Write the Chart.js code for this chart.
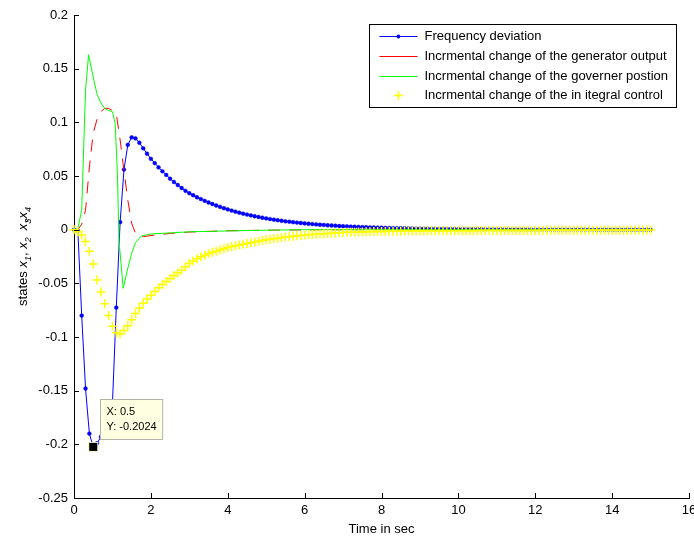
<!DOCTYPE html>
<html lang="en">
<head>
    <meta charset="UTF-8">
    <title>States response</title>
    <script src="https://cdn.jsdelivr.net/npm/chart.js"></script>
    <style>
        body {
            margin: 0;
            background: #fff;
            overflow: hidden;
        }
        .wrap {
            width: 694px;
            height: 541px;
            overflow: hidden;
        }
    </style>
</head>
<body>
    <div class="wrap">
        <canvas id="statesChart" width="704" height="541"></canvas>
    </div>

    <script>
        // time grid of the solver output (s)
        const time = [
            0, 0.1, 0.2, 0.3, 0.4, 0.5, 0.6, 0.7, 0.8, 0.9,
            1, 1.1, 1.2, 1.3, 1.4, 1.5, 1.6, 1.7, 1.8, 1.9,
            2, 2.1, 2.2, 2.3, 2.4, 2.5, 2.6, 2.7, 2.8, 2.9,
            3, 3.1, 3.2, 3.3, 3.4, 3.5, 3.6, 3.7, 3.8, 3.9,
            4, 4.1, 4.2, 4.3, 4.4, 4.5, 4.6, 4.7, 4.8, 4.9,
            5, 5.1, 5.2, 5.3, 5.4, 5.5, 5.6, 5.7, 5.8, 5.9,
            6, 6.1, 6.2, 6.3, 6.4, 6.5, 6.6, 6.7, 6.8, 6.9,
            7, 7.1, 7.2, 7.3, 7.4, 7.5, 7.6, 7.7, 7.8, 7.9,
            8, 8.1, 8.2, 8.3, 8.4, 8.5, 8.6, 8.7, 8.8, 8.9,
            9, 9.1, 9.2, 9.3, 9.4, 9.5, 9.6, 9.7, 9.8, 9.9,
            10, 10.1, 10.2, 10.3, 10.4, 10.5, 10.6, 10.7, 10.8, 10.9,
            11, 11.1, 11.2, 11.3, 11.4, 11.5, 11.6, 11.7, 11.8, 11.9,
            12, 12.1, 12.2, 12.3, 12.4, 12.5, 12.6, 12.7, 12.8, 12.9,
            13, 13.1, 13.2, 13.3, 13.4, 13.5, 13.6, 13.7, 13.8, 13.9,
            14, 14.1, 14.2, 14.3, 14.4, 14.5, 14.6, 14.7, 14.8, 14.9,
            15
        ];

        // x1 - frequency deviation
        const freqDev = [
            0, -0.001, -0.08, -0.148, -0.19, -0.2024, -0.199, -0.193, -0.185, -0.174,
            -0.162, -0.0726, 0.007, 0.056, 0.079, 0.086, 0.085, 0.081, 0.0758, 0.0708,
            0.066, 0.062, 0.058, 0.0544, 0.051, 0.0475, 0.0444, 0.0416, 0.0388, 0.0362,
            0.034, 0.0321, 0.0302, 0.0285, 0.0269, 0.0253, 0.0239, 0.0225, 0.0212, 0.02,
            0.0189, 0.0178, 0.0168, 0.0158, 0.0149, 0.0141, 0.0133, 0.0125, 0.0118, 0.0111,
            0.0105, 0.0099, 0.0093, 0.0088, 0.0083, 0.0078, 0.0074, 0.007, 0.0066, 0.0062,
            0.0058, 0.0055, 0.0052, 0.0049, 0.0046, 0.0044, 0.0041, 0.0039, 0.0037, 0.0034,
            0.0032, 0.0031, 0.0029, 0.0027, 0.0026, 0.0024, 0.0023, 0.0021, 0.002, 0.0019,
            0.0018, 0.0017, 0.0016, 0.0015, 0.0014, 0.0013, 0.0013, 0.0012, 0.0011, 0.001,
            0.001, 0.0009, 0.0009, 0.0008, 0.0008, 0.0007, 0.0007, 0.0006, 0.0006, 0.0006,
            0.0005, 0.0005, 0.0005, 0.0004, 0.0004, 0.0004, 0.0004, 0.0003, 0.0003, 0.0003,
            0.0003, 0.0003, 0.0002, 0.0002, 0.0002, 0.0002, 0.0002, 0.0002, 0.0002, 0.0001,
            0.0001, 0.0001, 0.0001, 0.0001, 0.0001, 0.0001, 0.0001, 0.0001, 0.0001, 0.0001,
            0.0001, 0.0001, 0.0001, 0.0001, 0.0001, 0.0001, 0, 0, 0, 0,
            0, 0, 0, 0, 0, 0, 0, 0, 0, 0,
            0
        ];

        // x4 - integral control
        const integralCtrl = [
            0, -0.002, -0.005, -0.011, -0.02, -0.032, -0.047, -0.058, -0.069, -0.08,
            -0.09, -0.096, -0.0972, -0.094, -0.0895, -0.084, -0.078, -0.073, -0.0685, -0.0645,
            -0.061, -0.0575, -0.0542, -0.0512, -0.0483, -0.0455, -0.0428, -0.0402, -0.0377, -0.0345,
            -0.0315, -0.0292, -0.027, -0.0253, -0.0238, -0.0223, -0.0211, -0.02, -0.0189, -0.0178,
            -0.0167, -0.0157, -0.015, -0.0143, -0.0136, -0.0129, -0.0122, -0.0115, -0.0107, -0.01,
            -0.0094, -0.0089, -0.0084, -0.0079, -0.0073, -0.0069, -0.0065, -0.0061, -0.0057, -0.0054,
            -0.0051, -0.0048, -0.0045, -0.0042, -0.004, -0.0038, -0.0036, -0.0034, -0.0031, -0.0029,
            -0.0027, -0.0025, -0.0024, -0.0023, -0.0022, -0.0021, -0.002, -0.0019, -0.0018, -0.0017,
            -0.0016, -0.0016, -0.0015, -0.0015, -0.0014, -0.0014, -0.0013, -0.0013, -0.0013, -0.0012,
            -0.0012, -0.0012, -0.0011, -0.0011, -0.0011, -0.001, -0.001, -0.001, -0.001, -0.0009,
            -0.0009, -0.0009, -0.0009, -0.0009, -0.0009, -0.0008, -0.0008, -0.0008, -0.0008, -0.0008,
            -0.0008, -0.0008, -0.0008, -0.0007, -0.0007, -0.0007, -0.0007, -0.0007, -0.0007, -0.0007,
            -0.0007, -0.0007, -0.0006, -0.0006, -0.0006, -0.0006, -0.0006, -0.0006, -0.0006, -0.0006,
            -0.0006, -0.0006, -0.0005, -0.0005, -0.0005, -0.0005, -0.0005, -0.0005, -0.0005, -0.0005,
            -0.0005, -0.0005, -0.0005, -0.0005, -0.0005, -0.0004, -0.0004, -0.0004, -0.0004, -0.0004,
            -0.0004
        ];

        // x2 - generator output (own time steps)
        const genTime = [0, 0.1, 0.2, 0.3, 0.4, 0.5, 0.6, 0.7, 0.8, 0.9, 1, 1.1, 1.2, 1.3, 1.4, 1.5, 1.6, 1.7, 1.8, 2, 2.5, 3, 4, 5, 6, 8, 10, 12, 15];
        const genOutput = [0, 0, 0.005, 0.018, 0.058, 0.09, 0.103, 0.11, 0.113, 0.113, 0.111, 0.108, 0.0835, 0.055, 0.0276, 0.006, -0.0034, -0.006, -0.0065, -0.0055, -0.0035, -0.0022, -0.001, -0.0005, -0.0002, 0, 0, 0, 0];

        // x3 - governor position (own time steps)
        const govTime = [0, 0.1, 0.2, 0.3, 0.38, 0.5, 0.6, 0.7, 0.8, 0.9, 1, 1.07, 1.13, 1.17, 1.28, 1.4, 1.5, 1.6, 1.75, 2, 2.5, 3, 4, 5, 6, 8, 10, 12, 15];
        const govPosition = [0, 0.001, 0.018, 0.13, 0.163, 0.142, 0.126, 0.118, 0.113, 0.111, 0.11, 0.099, 0.0525, -0.01, -0.0546, -0.036, -0.022, -0.012, -0.006, -0.004, -0.003, -0.002, -0.0012, -0.0005, 0, 0, 0, 0, 0];

        const seriesNames = [
            "Frequency deviation",
            "Incrmental change of the generator output",
            "Incrmental change of the governer postion",
            "Incrmental change of the in itegral control"
        ];

        const xTicks = [0, 2, 4, 6, 8, 10, 12, 14, 16];
        const yTicks = [-0.25, -0.2, -0.15, -0.1, -0.05, 0, 0.05, 0.1, 0.15, 0.2];
        const tipIndex = 5; // data cursor on the frequency deviation

        const FONT = '"Liberation Sans", Arial, Helvetica, sans-serif';

        function pairs(xs, ys) {
            return xs.map((x, i) => ({ x: x, y: ys[i] }));
        }

        // MATLAB style ticks pointing into the axes
        const inwardTicks = {
            id: 'inwardTicks',
            afterDraw(chart) {
                const ctx = chart.ctx;
                const xs = chart.scales.x, ys = chart.scales.y;
                const a = chart.chartArea;
                ctx.save();
                ctx.strokeStyle = '#000';
                ctx.lineWidth = 1;
                ctx.beginPath();
                xTicks.forEach(v => {
                    const px = Math.round(xs.getPixelForValue(v)) + 0.5;
                    ctx.moveTo(px, a.bottom);
                    ctx.lineTo(px, a.bottom - 5);
                });
                yTicks.forEach(v => {
                    const py = Math.round(ys.getPixelForValue(v)) + 0.5;
                    ctx.moveTo(a.left, py);
                    ctx.lineTo(a.left + 5, py);
                });
                ctx.stroke();
                ctx.restore();
            }
        };

        // y label with italic x and subscripts
        const yTitle = {
            id: 'yTitle',
            afterDraw(chart) {
                const ctx = chart.ctx;
                const parts = [
                    ['states ', 'n'], ['x', 'i'], ['1', 's'], [', ', 'n'],
                    ['x', 'i'], ['2', 's'], ['  ', 'n'],
                    ['x', 'i'], ['3', 's'], [',', 'c'], ['x', 'i'], ['4', 's']
                ];
                const fontOf = k => k === 's' ? 'italic 9px ' + FONT
                    : k === 'i' ? 'italic 13px ' + FONT : '13px ' + FONT;
                ctx.save();
                let total = 0;
                parts.forEach(p => {
                    ctx.font = fontOf(p[1]);
                    if (p[1] !== 'c') total += ctx.measureText(p[0]).width;
                });
                ctx.translate(27, (chart.chartArea.top + chart.chartArea.bottom) / 2);
                ctx.rotate(-Math.PI / 2);
                ctx.fillStyle = '#000';
                ctx.textBaseline = 'alphabetic';
                let u = -total / 2;
                parts.forEach(p => {
                    ctx.font = fontOf(p[1]);
                    const w = ctx.measureText(p[0]).width;
                    if (p[1] === 'c') {
                        ctx.fillText(p[0], u - w - 1, 0);
                        return;
                    }
                    ctx.fillText(p[0], u, p[1] === 's' ? 4 : 0);
                    u += w;
                });
                ctx.restore();
            }
        };

        // boxed legend in the upper right corner
        const boxLegend = {
            id: 'boxLegend',
            afterDraw(chart) {
                const ctx = chart.ctx;
                const a = chart.chartArea;
                const sets = chart.data.datasets;
                ctx.save();
                ctx.font = '13px ' + FONT;
                const tw = Math.max(...sets.map(d => ctx.measureText(d.label).width));
                const right = a.right - 13;
                const left = right - (55 + tw + 8);
                const top = a.top + 9;
                const h = 83;
                ctx.fillStyle = '#fff';
                ctx.fillRect(left, top, right - left, h);
                ctx.strokeStyle = '#000';
                ctx.lineWidth = 1;
                ctx.strokeRect(Math.round(left) + 0.5, top + 0.5, Math.round(right - left), h);
                sets.forEach((d, i) => {
                    const y = Math.round(top + 12 + i * 19.8) + 0.5;
                    const x0 = left + 10, x1 = left + 48, xm = (x0 + x1) / 2;
                    ctx.strokeStyle = d.borderColor;
                    ctx.lineWidth = 1;
                    ctx.setLineDash([]);
                    if (d.showLine !== false) {
                        ctx.beginPath();
                        ctx.moveTo(x0, y);
                        ctx.lineTo(x1, y);
                        ctx.stroke();
                    }
                    if (d.pointStyle === 'cross') {
                        const r = d.pointRadius;
                        ctx.lineWidth = d.pointBorderWidth;
                        ctx.beginPath();
                        ctx.moveTo(xm - r, y); ctx.lineTo(xm + r, y);
                        ctx.moveTo(xm, y - r); ctx.lineTo(xm, y + r);
                        ctx.stroke();
                    } else if (d.pointRadius > 0) {
                        ctx.fillStyle = d.pointBackgroundColor;
                        ctx.beginPath();
                        ctx.arc(xm, y, d.pointRadius, 0, Math.PI * 2);
                        ctx.fill();
                    }
                    ctx.fillStyle = '#000';
                    ctx.textBaseline = 'middle';
                    ctx.fillText(d.label, left + 55, y);
                });
                ctx.restore();
            }
        };

        // data cursor box
        const dataTip = {
            id: 'dataTip',
            afterDraw(chart) {
                const ctx = chart.ctx;
                const mx = chart.scales.x.getPixelForValue(time[tipIndex]);
                const my = chart.scales.y.getPixelForValue(freqDev[tipIndex]);
                ctx.save();
                ctx.font = '11px ' + FONT;
                const l1 = 'X: ' + time[tipIndex];
                const l2 = 'Y: ' + freqDev[tipIndex];
                const w = Math.max(ctx.measureText(l1).width, ctx.measureText(l2).width) + 12;
                const bx = Math.round(mx + 7) + 0.5, by = Math.round(my - 48) + 0.5;
                ctx.fillStyle = '#ffffe1';
                ctx.fillRect(bx, by, w, 40);
                ctx.strokeStyle = '#b4b4a8';
                ctx.lineWidth = 1;
                ctx.strokeRect(bx, by, w, 40);
                ctx.fillStyle = '#000';
                ctx.textBaseline = 'middle';
                ctx.fillText(l1, bx + 6, by + 12);
                ctx.fillText(l2, bx + 6, by + 27);
                ctx.fillStyle = '#f4f0c0';
                ctx.fillRect(mx - 5, my - 5, 10, 10);
                ctx.fillStyle = '#000';
                ctx.fillRect(mx - 4, my - 4, 8, 8);
                ctx.restore();
            }
        };

        const ctx = document.getElementById("statesChart").getContext("2d");
        const statesChart = new Chart(ctx, {
            type: "line",
            data: {
                datasets: [
                    {
                        label: seriesNames[0],
                        data: pairs(time, freqDev),
                        borderColor: "#0000ff",
                        borderWidth: 1,
                        pointRadius: 1.9,
                        pointBackgroundColor: "#0000ff",
                        pointBorderColor: "#0000ff",
                        pointBorderWidth: 0.5,
                        order: 4
                    },
                    {
                        label: seriesNames[1],
                        data: pairs(genTime, genOutput),
                        borderColor: "#ff0000",
                        borderWidth: 1,
                        borderDash: [12, 9],
                        pointRadius: 0,
                        order: 3
                    },
                    {
                        label: seriesNames[2],
                        data: pairs(govTime, govPosition),
                        borderColor: "#00ff00",
                        borderWidth: 1,
                        pointRadius: 0,
                        order: 2
                    },
                    {
                        label: seriesNames[3],
                        data: pairs(time, integralCtrl),
                        borderColor: "#ffff00",
                        showLine: false,
                        pointStyle: "cross",
                        pointRadius: 4.5,
                        pointBorderColor: "#ffff00",
                        pointBorderWidth: 1.5,
                        order: 1
                    }
                ]
            },
            options: {
                responsive: false,
                animation: false,
                clip: false,
                layout: { padding: { top: 15, right: 15, left: 0, bottom: 0 } },
                plugins: {
                    legend: { display: false },
                    tooltip: { enabled: false }
                },
                scales: {
                    x: {
                        type: "linear",
                        min: 0,
                        max: 16,
                        grid: { display: false, drawTicks: false },
                        border: { display: true, color: "#000", width: 1 },
                        ticks: { color: "#000", padding: 5, font: { family: FONT, size: 13 }, maxRotation: 0 },
                        title: { display: true, text: "Time in sec", color: "#000", font: { family: FONT, size: 13 }, padding: { top: 0, bottom: 4 } },
                        afterBuildTicks: s => { s.ticks = xTicks.map(v => ({ value: v })); },
                        afterFit: s => { s.height = 43; }
                    },
                    y: {
                        min: -0.25,
                        max: 0.2,
                        grid: { display: false, drawTicks: false },
                        border: { display: true, color: "#000", width: 1 },
                        ticks: { color: "#000", padding: 6, font: { family: FONT, size: 13 }, callback: v => String(v) },
                        afterBuildTicks: s => { s.ticks = yTicks.map(v => ({ value: v })); },
                        afterFit: s => { s.width = 74; }
                    }
                }
            },
            plugins: [inwardTicks, yTitle, boxLegend, dataTip]
        });
    </script>
</body>
</html>
